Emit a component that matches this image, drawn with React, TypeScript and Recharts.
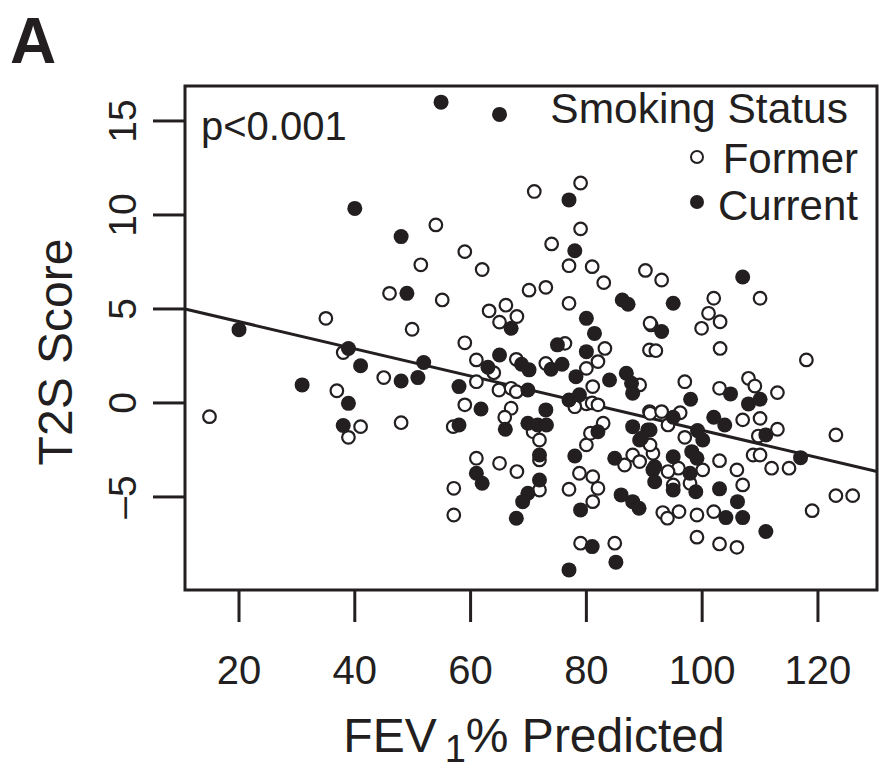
import { ScatterChart, Scatter, XAxis, YAxis, ReferenceArea, ReferenceLine } from 'recharts'

const INK = '#231f20'
const FONT = '"Liberation Sans", Arial, Helvetica, sans-serif'

// [FEV1 % predicted, T2S score]
const formerPoints = [
  [51.4, 7.35], [46.0, 5.83], [35.0, 4.5], [49.9, 3.92], [79.0, 11.7], [71.0, 11.25], [54.0, 9.47], [79.0, 9.26],
  [74.0, 8.46], [59.0, 8.05], [62.0, 7.1], [77.0, 7.3], [81.0, 7.25], [83.0, 6.4], [90.2, 7.05], [73.0, 6.15],
  [70.1, 6.0], [55.1, 5.48], [63.2, 4.9], [66.1, 5.2], [68.0, 4.6], [65.0, 4.3], [77.0, 5.3], [91.2, 4.15],
  [59.0, 3.2], [93.0, 6.54], [110.0, 5.57], [102.0, 5.57], [101.1, 4.77], [103.1, 4.32], [99.9, 3.97], [91.0, 4.24],
  [38.0, 2.68], [45.0, 1.35], [36.9, 0.65], [14.9, -0.73], [41.0, -1.26], [38.9, -1.83], [48.0, -1.05], [61.0, 2.29],
  [64.0, 1.61], [67.9, 2.32], [73.0, 2.1], [76.3, 3.17], [83.2, 2.9], [82.0, 2.2], [80.0, 1.84], [89.2, 0.96],
  [90.9, 2.82], [61.0, 1.13], [64.9, 0.69], [67.0, 0.78], [67.9, 0.6], [81.1, 0.87], [80.0, -0.05], [81.0, 0.0],
  [82.0, -0.1], [78.0, -0.2], [59.0, -0.1], [57.0, -1.26], [67.0, -0.28], [65.9, -0.76], [70.8, -1.53], [71.9, -1.97],
  [71.9, -3.03], [71.9, -4.63], [61.0, -2.94], [65.0, -3.21], [68.0, -3.65], [57.1, -4.54], [57.1, -5.96], [80.0, -2.23],
  [80.7, -1.61], [82.9, -1.08], [78.8, -3.74], [81.1, -3.92], [82.0, -4.54], [77.0, -4.59], [81.1, -5.25], [79.0, -7.46],
  [84.9, -7.46], [86.6, -3.3], [88.0, -2.77], [89.2, -3.12], [90.9, -0.46], [91.5, -2.68], [92.0, 2.78], [103.1, 2.9],
  [118.0, 2.29], [97.0, 1.13], [103.0, 0.78], [108.0, 1.31], [109.1, 0.9], [113.0, 0.55], [107.0, -0.9], [110.0, -0.82],
  [113.0, -1.4], [109.7, -1.76], [123.1, -1.7], [108.8, -2.77], [110.0, -2.77], [112.0, -3.47], [115.0, -3.47], [103.0, -3.07],
  [106.0, -3.56], [107.0, -4.36], [102.0, -5.78], [99.1, -5.96], [96.0, -5.78], [93.2, -5.83], [94.0, -6.13], [99.1, -7.14],
  [103.0, -7.5], [106.0, -7.68], [119.0, -5.73], [123.1, -4.93], [126.0, -4.93], [91.0, -0.55], [93.0, -0.46], [96.2, -0.52],
  [94.1, -1.17], [91.0, -2.23], [97.0, -1.83], [95.9, -3.47], [94.1, -3.65], [100.1, -3.56], [95.0, -4.36], [97.9, -4.27],
]

const currentPoints = [
  [40.0, 10.35], [48.0, 8.85], [49.0, 5.83], [20.0, 3.9], [54.9, 16.0], [65.0, 15.35], [77.0, 10.8], [78.0, 8.1],
  [86.2, 5.48], [87.2, 5.25], [67.0, 3.97], [80.0, 4.5], [81.4, 3.7], [107.0, 6.7], [95.0, 5.3], [93.0, 3.8],
  [38.9, 2.9], [41.0, 1.98], [48.0, 1.17], [50.9, 1.35], [51.9, 2.15], [30.9, 0.96], [38.9, -0.02], [38.0, -1.2],
  [65.0, 2.55], [63.0, 1.9], [68.8, 2.06], [70.1, 1.76], [73.9, 1.79], [75.8, 2.06], [75.0, 3.09], [80.0, 2.73],
  [78.2, 1.4], [84.0, 1.22], [86.9, 1.58], [87.8, 1.05], [88.0, 0.52], [58.0, 0.87], [69.9, 0.69], [77.0, 0.16],
  [78.8, 0.43], [61.8, -0.32], [58.0, -1.17], [66.0, -1.4], [69.9, -1.08], [71.6, -1.17], [73.0, -0.37], [73.1, -1.17],
  [71.9, -2.77], [71.9, -4.1], [69.9, -4.8], [69.0, -5.25], [67.9, -6.13], [61.0, -3.74], [62.0, -4.27], [78.0, -2.82],
  [82.0, -1.53], [79.0, -5.69], [81.0, -7.64], [85.1, -8.47], [77.0, -8.88], [84.9, -2.94], [86.0, -4.89], [88.0, -5.25],
  [89.1, -5.6], [88.0, -1.26], [89.2, -1.97], [90.6, -1.44], [91.5, -3.56], [98.0, 0.2], [104.9, 0.48], [108.0, -0.05],
  [110.0, 0.2], [111.0, -1.7], [117.0, -2.91], [103.0, -4.57], [106.1, -5.25], [104.1, -6.1], [107.0, -6.1], [111.0, -6.84],
  [95.0, -0.76], [91.0, -1.44], [89.5, -1.88], [99.2, -1.47], [100.1, -1.97], [102.0, -0.76], [103.9, -1.17], [98.2, -2.59],
  [99.1, -2.94], [95.0, -2.86], [97.9, -3.74], [91.8, -3.39], [91.8, -4.19], [95.0, -4.63], [98.9, -4.72],
]

const xTicks = [20, 40, 60, 80, 100, 120]
const yTicks = [-5, 0, 5, 10, 15]
const xDomain = [10.67, 130.2]
const yDomain = [-9.95, 16.86]

// fitted regression line drawn across the panel
const fitIntercept = 5.77
const fitSlope = -0.0723

const panelLetter = 'A'
const pValueLabel = 'p<0.001'
const legendTitle = 'Smoking Status'
const groupNames = ['Former', 'Current']

const toRows = (pts: number[][]) => pts.map(([fev, t2s]) => ({ fev, t2s }))

function OpenDot({ cx, cy }: any) {
  return <circle cx={cx} cy={cy} r={6.3} fill="#fff" stroke={INK} strokeWidth={2.2} />
}

function SolidDot({ cx, cy }: any) {
  return <circle cx={cx} cy={cy} r={7.5} fill={INK} />
}

function XTick({ x, y, payload }: any) {
  return (
    <text x={x} y={y + 62} textAnchor="middle" fontSize={40} fill={INK} fontFamily={FONT}>
      {payload.value}
    </text>
  )
}

function YTick({ x, y, payload }: any) {
  const v = payload.value
  return (
    <text transform={`translate(${x - 17},${y}) rotate(-90)`} textAnchor="middle" fontSize={39} fill={INK} fontFamily={FONT}>
      {v < 0 ? `\u2013${Math.abs(v)}` : v}
    </text>
  )
}

export default function App() {
  const fitAt = (x: number) => fitIntercept + fitSlope * x
  return (
    <div style={{ position: 'absolute', left: 0, top: 0, width: 879, height: 772, background: '#fff' }}>
      <ScatterChart width={879} height={772} margin={{ top: 86, right: 2, bottom: 0, left: 0 }}>
        <XAxis
          type="number"
          dataKey="fev"
          domain={xDomain}
          ticks={xTicks}
          axisLine={false}
          tickLine={{ stroke: INK, strokeWidth: 3 }}
          tickSize={32}
          tickMargin={0}
          height={182}
          tick={<XTick />}
          allowDataOverflow
        />
        <YAxis
          type="number"
          dataKey="t2s"
          domain={yDomain}
          ticks={yTicks}
          axisLine={false}
          tickLine={{ stroke: INK, strokeWidth: 3 }}
          tickSize={32}
          tickMargin={0}
          width={185}
          tick={<YTick />}
          allowDataOverflow
        />
        <Scatter data={toRows(formerPoints)} shape={<OpenDot />} isAnimationActive={false} />
        <Scatter data={toRows(currentPoints)} shape={<SolidDot />} isAnimationActive={false} />
        <ReferenceLine
          segment={[{ x: xDomain[0], y: fitAt(xDomain[0]) }, { x: xDomain[1], y: fitAt(xDomain[1]) }]}
          stroke={INK}
          strokeWidth={3}
        />
        <ReferenceArea x1={xDomain[0]} x2={xDomain[1]} y1={yDomain[0]} y2={yDomain[1]} fill="none" stroke={INK} strokeWidth={3} />
      </ScatterChart>
      <svg width={879} height={772} style={{ position: 'absolute', left: 0, top: 0, pointerEvents: 'none' }} fontFamily={FONT} fill={INK}>
        <text x={10} y={63} fontSize={64} fontWeight="bold">{panelLetter}</text>
        <text x={201} y={140} fontSize={40}>{pValueLabel}</text>
        <text x={848} y={123} fontSize={42.5} textAnchor="end">{legendTitle}</text>
        <circle cx={697} cy={157} r={6} fill="#fff" stroke={INK} strokeWidth={2} />
        <text x={858} y={173} fontSize={42} textAnchor="end">{groupNames[0]}</text>
        <circle cx={697} cy={202} r={7} fill={INK} />
        <text x={858} y={220} fontSize={42} textAnchor="end">{groupNames[1]}</text>
        <text transform="translate(72,352) rotate(-90)" fontSize={48} textAnchor="middle">T2S Score</text>
        <text x={534} y={752} fontSize={48} textAnchor="middle">
          FEV<tspan fontSize={38} dy={10} dx={8}>1</tspan><tspan dy={-10}>% Predicted</tspan>
        </text>
      </svg>
    </div>
  )
}
